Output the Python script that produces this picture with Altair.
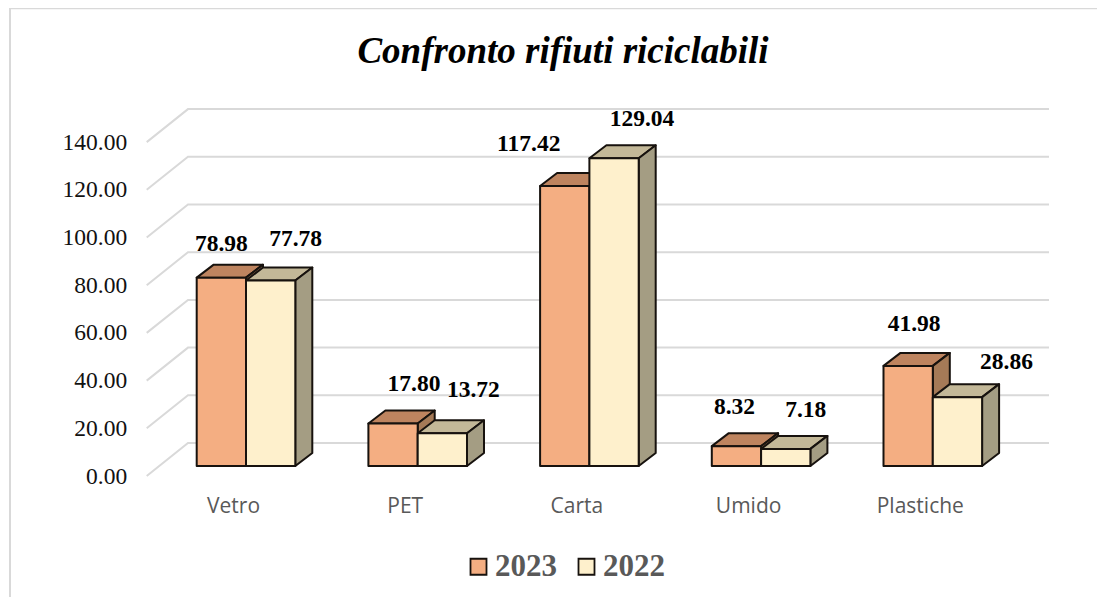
import altair as alt
import pandas as pd

categories = ["Vetro", "PET", "Carta", "Umido", "Plastiche"]
years = ["2023", "2022"]
values_2023 = [78.98, 17.80, 117.42, 8.32, 41.98]
values_2022 = [77.78, 13.72, 129.04, 7.18, 28.86]
y_ticks = [0, 20, 40, 60, 80, 100, 120, 140]

# pixel geometry of the pseudo-3D projection
PITCH = 171.7
PX_PER_UNIT = 2.385
LEFT, RIGHT, TOP, BOTTOM = 146.7, 1049.0, 109.0, 466.0
ZERO_X = 246.0
BAR_W = 49.3 / PITCH
DX = 17.0 / PITCH
DY = 13.0 / PX_PER_UNIT
WALL_DX = (188.0 - LEFT) / PITCH
WALL_FRONT = -10.0 / PX_PER_UNIT
WALL_BACK = 23.0 / PX_PER_UNIT
X_DOMAIN = [(LEFT - ZERO_X) / PITCH, (RIGHT - ZERO_X) / PITCH]
Y_DOMAIN = [0, (BOTTOM - TOP) / PX_PER_UNIT]
CAT_SHIFT = 13.0 / PITCH

# hand-placed data label nudges, pixels (right, up) from the bar's top centre
nudge_2023 = [(0, 34), (21, 40), (-36, 42), (-2, 39), (6, 42)]
nudge_2022 = [(25, 41), (31, 43), (28, 39), (20, 39), (49, 35)]

x_scale = alt.Scale(domain=X_DOMAIN, nice=False, zero=False)
y_scale = alt.Scale(domain=Y_DOMAIN, nice=False, zero=False)
x_axis = alt.Axis(
    values=[i - CAT_SHIFT for i in range(len(categories))],
    labelExpr="['" + "','".join(categories) + f"'][round(datum.value+{CAT_SHIFT})]",
    domain=False, ticks=False, grid=False, title=None, labelPadding=29,
    labelFont="Open Sans", labelFontSize=21, labelColor="#595959",
    labelOverlap=False, labelFlush=False,
)
y_axis = alt.Axis(
    values=y_ticks, format=".2f", domain=False, ticks=False, grid=False,
    title=None, labelPadding=20, labelOffset=10,
    labelFont="Liberation Serif", labelFontSize=23.5, labelColor="#111111",
)
X = lambda f: alt.X(f, type="quantitative", scale=x_scale, axis=x_axis)
Y = lambda f: alt.Y(f, type="quantitative", scale=y_scale, axis=y_axis)

STROKE = "#17120e"
SW = 2
colors = {
    "2023": {"front": "#F4AE82", "top": "#BE845F", "side": "#A57A57"},
    "2022": {"front": "#FEF0CC", "top": "#C3B898", "side": "#A49D83"},
}

fronts, tops, sides, labels = [], [], [], []
for yi, (year, vals, nudges) in enumerate(
    [("2023", values_2023, nudge_2023), ("2022", values_2022, nudge_2022)]
):
    for i, (cat, v, (nx, ny)) in enumerate(zip(categories, vals, nudges)):
        x0 = i - BAR_W + yi * BAR_W
        x1 = x0 + BAR_W
        fronts.append(dict(cat=cat, year=year, x0=x0, x1=x1, y0=0, v=v))
        tops.append(dict(cat=cat, year=year, y=v, a=x0, b=x1))
        tops.append(dict(cat=cat, year=year, y=v + DY, a=x0 + DX, b=x1 + DX))
        sides.append(dict(cat=cat, year=year, x=x1, lo=0, hi=v))
        sides.append(dict(cat=cat, year=year, x=x1 + DX, lo=DY, hi=v + DY))
        labels.append(dict(
            text=f"{v:.2f}",
            x=(x0 + x1) / 2 + nx / PITCH,
            y=v + ny / PX_PER_UNIT,
        ))
fronts, tops, sides, labels = map(pd.DataFrame, (fronts, tops, sides, labels))

grid = []
for t in y_ticks:
    grid.append(dict(t=t, x=X_DOMAIN[0], y=t + WALL_FRONT, o=0))
    grid.append(dict(t=t, x=X_DOMAIN[0] + WALL_DX, y=t + WALL_BACK, o=1))
    grid.append(dict(t=t, x=X_DOMAIN[1], y=t + WALL_BACK, o=2))
grid = pd.DataFrame(grid)

grid_layer = alt.Chart(grid).mark_line(color="#d9d9d9", strokeWidth=2).encode(
    x=X("x"), y=Y("y"), detail="t:N", order="o:Q",
)

one = pd.DataFrame({"a": [0]})
frame_left = alt.Chart(one).mark_rule(color="#d9d9d9", strokeWidth=2).encode(
    x=alt.value(10 - LEFT), y=alt.value(8 - TOP), y2=alt.value(597 - TOP))
frame_top = alt.Chart(one).mark_rule(color="#d9d9d9", strokeWidth=1.5).encode(
    y=alt.value(8.5 - TOP), x=alt.value(10 - LEFT), x2=alt.value(1097 - LEFT))


def year_layers(year):
    c = colors[year]
    t = alt.Chart(tops[tops.year == year]).mark_area(
        orient="horizontal", fill=c["top"], stroke=STROKE, strokeWidth=SW, strokeJoin="round"
    ).encode(y=Y("y"), x=X("a"), x2="b:Q", detail="cat:N")
    s = alt.Chart(sides[sides.year == year]).mark_area(
        orient="vertical", fill=c["side"], stroke=STROKE, strokeWidth=SW, strokeJoin="round"
    ).encode(x=X("x"), y=Y("lo"), y2="hi:Q", detail="cat:N")
    return [t, s]


front_layer = alt.Chart(fronts).mark_bar(stroke=STROKE, strokeWidth=SW, strokeJoin="round").encode(
    x=X("x0"), x2="x1:Q", y=Y("y0"), y2="v:Q",
    fill=alt.Fill("year:N", scale=alt.Scale(
        domain=years, range=[colors[y]["front"] for y in years]),
        legend=alt.Legend(
            orient="none", legendX=469 - LEFT - 6, legendY=551 - TOP,
            direction="horizontal", title=None, symbolType="square", symbolSize=256,
            symbolStrokeColor=STROKE, symbolStrokeWidth=1.8, labelFont="Liberation Serif",
            labelFontSize=31, labelFontWeight="bold", labelColor="#595959",
            columnPadding=14, labelOffset=1,
        )),
)

label_layer = alt.Chart(labels).mark_text(
    font="Liberation Serif", fontSize=23.5, fontWeight="bold", color="#000000", baseline="middle"
).encode(x=X("x"), y=Y("y"), text="text:N")

chart = alt.layer(
    grid_layer, frame_left, frame_top,
    *year_layers("2023"), *year_layers("2022"),
    front_layer, label_layer,
).properties(
    width=RIGHT - LEFT,
    height=BOTTOM - TOP,
    autosize="none",
    padding={"left": LEFT - 8, "top": TOP - 8, "right": 1097 - RIGHT, "bottom": 605 - BOTTOM - 8},
    background="white",
    title=alt.TitleParams(
        "Confronto rifiuti riciclabili", font="Liberation Serif", fontSize=37,
        fontStyle="italic", fontWeight="bold", color="#000000",
        anchor="middle", frame="group", dx=563 - (LEFT + RIGHT) / 2, dy=68,
    ),
).configure_view(stroke=None)

chart.save("out.html", embed_options={"renderer": "svg", "actions": False})
